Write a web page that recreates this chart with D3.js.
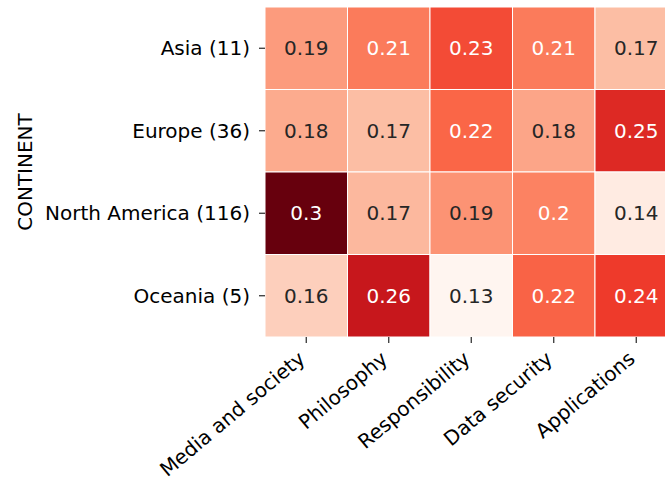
<!DOCTYPE html>
<html>
<head>
<meta charset="utf-8">
<script src="https://cdn.jsdelivr.net/npm/d3@7"></script>
<style>
  body { margin: 0; background: #fff; }
  text { font-family: "DejaVu Sans", sans-serif; }
</style>
</head>
<body>
<script>
var continents = ["Asia (11)", "Europe (36)", "North America (116)", "Oceania (5)"];
var topics = ["Media and society", "Philosophy", "Responsibility", "Data security", "Applications"];
var asia = [0.189, 0.206, 0.229, 0.206, 0.171];
var europe = [0.181, 0.171, 0.217, 0.184, 0.247];
var northAmerica = [0.3, 0.174, 0.193, 0.202, 0.14];
var oceania = [0.161, 0.26, 0.13, 0.218, 0.237];
var rows = [asia, europe, northAmerica, oceania];

var W = 665, H = 481,
    x0 = 265, y0 = 7, cell = 82.5,
    fs = 20;

var svg = d3.select("body").append("svg")
  .attr("width", W)
  .attr("height", H);

var x = d3.scaleBand().domain(topics).range([x0, x0 + cell * topics.length]);
var y = d3.scaleBand().domain(continents).range([y0, y0 + cell * continents.length]);

// matplotlib "Reds": linear steps between the brewer colours
var reds = ["#fff5f0","#fee0d2","#fcbba1","#fc9272","#fb6a4a","#ef3b2c","#cb181d","#a50f15","#67000d"];
var all = d3.merge(rows);
var lo = d3.min(all), hi = d3.max(all);
var color = d3.scaleLinear()
  .domain(reds.map(function(d, i) { return lo + (hi - lo) * i / (reds.length - 1); }))
  .range(reds)
  .interpolate(d3.interpolateRgb);

// same rule as seaborn for picking dark or white annotation text
function lum(c) {
  var r = d3.rgb(c);
  var v = [r.r, r.g, r.b].map(function(u) {
    u = u / 255;
    return u <= 0.03928 ? u / 12.92 : Math.pow((u + 0.055) / 1.055, 2.4);
  });
  return 0.2126 * v[0] + 0.7152 * v[1] + 0.0722 * v[2];
}

var cells = [];
rows.forEach(function(r, i) {
  r.forEach(function(v, j) {
    cells.push({row: continents[i], col: topics[j], value: v});
  });
});

var fmt = d3.format(".2~g");

var g = svg.append("g");
g.selectAll("rect")
  .data(cells)
  .enter().append("rect")
  .attr("x", function(d) { return x(d.col); })
  .attr("y", function(d) { return y(d.row); })
  .attr("width", x.bandwidth())
  .attr("height", y.bandwidth())
  .attr("fill", function(d) { return color(d.value); })
  .attr("stroke", "#fff")
  .attr("stroke-width", 1);

g.selectAll("text.ann")
  .data(cells)
  .enter().append("text")
  .attr("class", "ann")
  .attr("x", function(d) { return x(d.col) + x.bandwidth() / 2; })
  .attr("y", function(d) { return y(d.row) + y.bandwidth() / 2; })
  .attr("text-anchor", "middle")
  .attr("dominant-baseline", "central")
  .attr("font-size", fs)
  .attr("fill", function(d) { return lum(color(d.value)) > 0.408 ? "#262626" : "#fff"; })
  .text(function(d) { return fmt(d.value); });

// y axis
var yAxis = svg.append("g")
  .attr("transform", "translate(" + x0 + ",0)")
  .call(d3.axisLeft(y).tickSize(6).tickPadding(9));
yAxis.select(".domain").remove();
yAxis.selectAll(".tick line").attr("stroke", "#262626").attr("stroke-width", 1.2);
yAxis.selectAll(".tick text")
  .attr("font-size", fs)
  .attr("fill", "#000")
  .attr("dy", "0.35em");

// x axis
var xBottom = y0 + cell * continents.length;
var xAxis = svg.append("g")
  .attr("transform", "translate(0," + xBottom + ")")
  .call(d3.axisBottom(x).tickSize(6).tickPadding(0));
xAxis.select(".domain").remove();
xAxis.selectAll(".tick line").attr("stroke", "#262626").attr("stroke-width", 1.2);
xAxis.selectAll(".tick text")
  .attr("font-size", fs)
  .attr("fill", "#000")
  .attr("text-anchor", "end")
  .attr("dy", null)
  .attr("y", null)
  .attr("transform", "translate(0," + (10 + 0.766 * fs * 0.9) + ") rotate(-40)");

svg.append("text")
  .attr("transform", "translate(31.5," + (y0 + cell * 2) + ") rotate(-90)")
  .attr("text-anchor", "middle")
  .attr("font-size", fs)
  .attr("fill", "#000")
  .text("CONTINENT");
</script>
</body>
</html>
